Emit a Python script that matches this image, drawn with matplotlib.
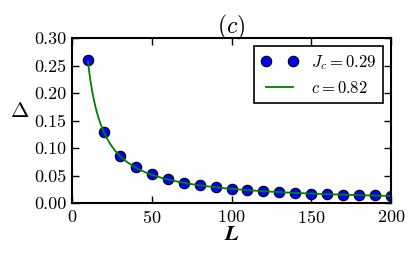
import numpy as np
import matplotlib
matplotlib.use('Agg')
import matplotlib.pyplot as plt

plt.rcParams['mathtext.fontset'] = 'cm'
plt.rcParams['font.family'] = 'serif'
plt.rcParams['font.serif'] = ['cmr10']
plt.rcParams['axes.formatter.use_mathtext'] = True

L = [10, 20, 30, 40, 50, 60, 70, 80, 90, 100,
     110, 120, 130, 140, 150, 160, 170, 180, 190, 200]
delta = [0.260, 0.130, 0.086, 0.065, 0.052, 0.043, 0.037, 0.032, 0.029, 0.026,
         0.0236, 0.0217, 0.020, 0.0186, 0.0173, 0.0163, 0.0153, 0.0145, 0.0137, 0.013]
Jc = 0.29
c_fit = 0.82

# fitted curve  Delta = pi c / L
L_fit = np.linspace(10, 200, 400)
delta_fit = np.pi * c_fit / L_fit

fig = plt.figure(figsize=(4.16, 2.57), dpi=100)
ax = fig.add_axes([0.173, 0.21, 0.767, 0.642])

ax.plot(L, delta, 'o', color='b', mec='k', mew=0.8, ms=7.5, label=r'$J_c=%.2f$' % Jc)
ax.plot(L_fit, delta_fit, '-', color='g', lw=1.3, label=r'$c=%.2f$' % c_fit)

ax.set_xlim(0, 200)
ax.set_ylim(0, 0.30)
ax.set_xticks([0, 50, 100, 150, 200])
ax.set_yticks([0, 0.05, 0.10, 0.15, 0.20, 0.25, 0.30])
ax.set_yticklabels(['0.00', '0.05', '0.10', '0.15', '0.20', '0.25', '0.30'])
ax.tick_params(direction='in', top=True, right=True, length=5, width=1, labelsize=13, pad=4)
for s in ax.spines.values():
    s.set_linewidth(1.5)

ax.set_xlabel(r'$\boldsymbol{L}$', fontsize=16, labelpad=-1)
ax.set_ylabel(r'$\boldsymbol{\Delta}$', fontsize=16, rotation=0, labelpad=10)
ax.set_title(r'$(c)$', fontsize=17, pad=3)

leg = ax.legend(loc='upper right', numpoints=2, fontsize=12, fancybox=False,
                framealpha=1, edgecolor='k', borderpad=0.4, handlelength=2.2)
leg.get_frame().set_linewidth(1.2)

fig.savefig('out.png', dpi=100)
